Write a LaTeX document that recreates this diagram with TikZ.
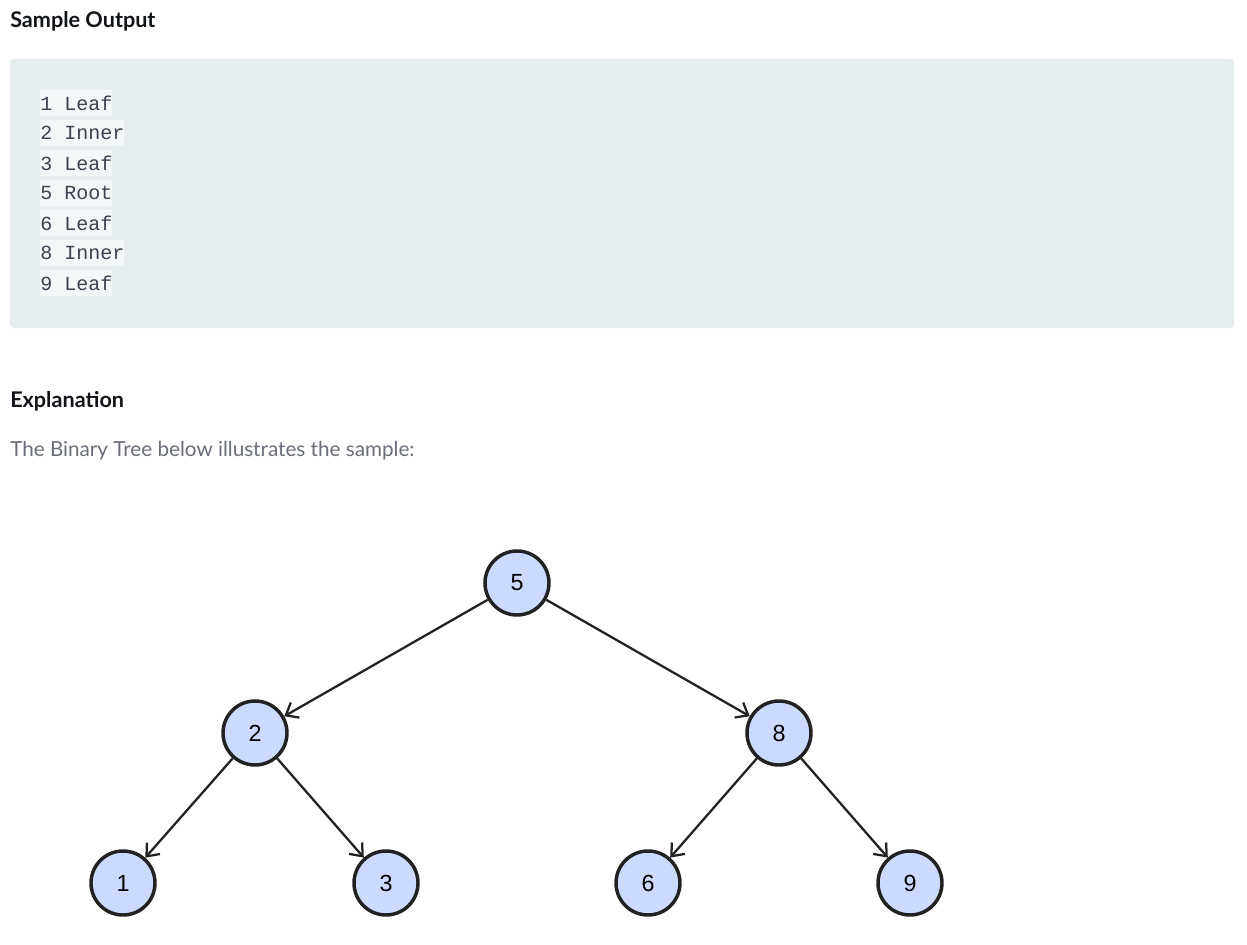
\documentclass[tikz,border=0pt]{standalone}
\usepackage{fontspec}
\setmainfont{Lato}
\setmonofont{Liberation Mono}
\newfontfamily\nodefont{Liberation Sans}
\usetikzlibrary{arrows.meta,positioning}
\definecolor{pgink}{HTML}{111418}
\definecolor{pgtext}{HTML}{6A6E78}
\definecolor{pgcode}{HTML}{3D4150}
\definecolor{pgbox}{HTML}{E6EDEF}
\definecolor{pgline}{HTML}{F3F7F8}
\definecolor{tnfill}{HTML}{CCDAFF}
\definecolor{tnedge}{HTML}{222222}
\tikzset{
 heading/.style={anchor=base west, inner sep=0pt, text=pgink,
 font=\fontsize{16.2pt}{18pt}\selectfont\bfseries},
 bodytext/.style={anchor=base west, inner sep=0pt, text=pgtext,
 font=\fontsize{15.5pt}{17pt}\selectfont},
 codeline/.style={anchor=west, fill=pgline, text=pgcode, inner xsep=0pt,
 inner ysep=0pt, minimum height=20pt,
 font=\ttfamily\fontsize{15pt}{16pt}\selectfont},
 treenode/.style={circle, draw=tnedge, fill=tnfill, line width=2.6pt,
 minimum size=48pt, inner sep=0pt, text=black,
 font=\nodefont\fontsize{17.5pt}{19pt}\selectfont},
 treearrow/.style={-{Straight Barb[length=8pt,width=13pt,line width=1.7pt]},
 draw=tnedge, line width=1.7pt},
}

\begin{document}
\begin{tikzpicture}[x=0.75pt, y=-0.75pt]
\useasboundingbox[fill=white] (0,0) rectangle (1247,945);

% ,  Sample output block , , , , , , , , , , , , , , , , 
\node[heading] (title) at (10,28) {Sample Output};
\fill[pgbox, rounded corners=3pt] (10,59) rectangle (1234,328);

\foreach \n/\y/\txt in {l1/103/1 Leaf, l2/133/2 Inner, l3/163/3 Leaf,
  l5/193/5 Root, l6/223/6 Leaf, l8/253/8 Inner, l9/283/9 Leaf}
  { \node[codeline] (\n) at (40,\y) {\txt}; }

% ,  Explanation , , , , , , , , , , , , , , , , , , , , 
\node[heading] (expl) at (10,407) {Explanation};
\node[bodytext] (intro) at (10,456) {The Binary Tree below illustrates the sample:};

% ,  Binary tree , , , , , , , , , , , , , , , , , , , , 
\node[treenode] (n5) at (517,583) {5};
\node[treenode] (n2) at (255,733) {2};
\node[treenode] (n8) at (779,733) {8};
\node[treenode] (n1) at (123,883) {1};
\node[treenode] (n3) at (386,883) {3};
\node[treenode] (n6) at (648,883) {6};
\node[treenode] (n9) at (910,883) {9};

\draw[treearrow] (n5) -- (n2);
\draw[treearrow] (n5) -- (n8);
\draw[treearrow] (n2) -- (n1);
\draw[treearrow] (n2) -- (n3);
\draw[treearrow] (n8) -- (n6);
\draw[treearrow] (n8) -- (n9);

\end{tikzpicture}
\end{document}
